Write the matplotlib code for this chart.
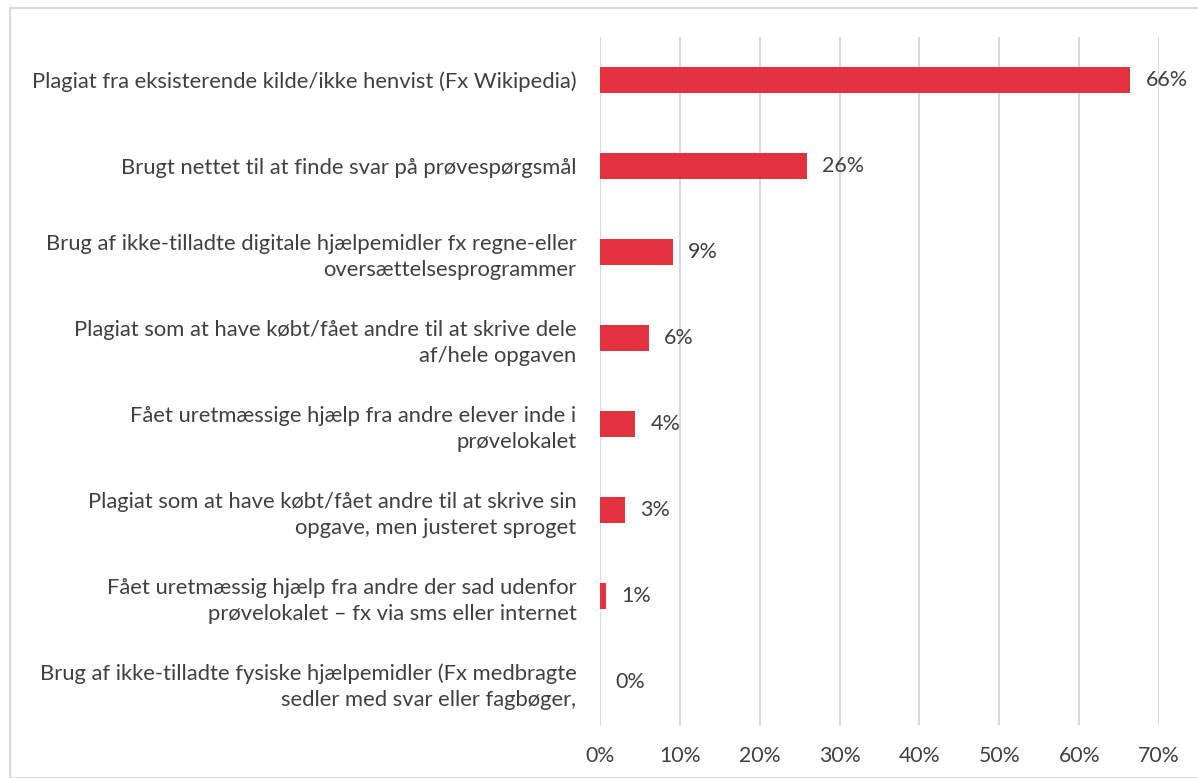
import matplotlib.pyplot as plt
from matplotlib.patches import Rectangle

plt.rcParams['font.family'] = ['Lato', 'DejaVu Sans']

# data (top to bottom)
labels = [
    "Plagiat fra eksisterende kilde/ikke henvist (Fx Wikipedia)",
    "Brugt nettet til at finde svar på prøvespørgsmål",
    "Brug af ikke-tilladte digitale hjælpemidler fx regne-eller\noversættelsesprogrammer",
    "Plagiat som at have købt/fået andre til at skrive dele\naf/hele opgaven",
    "Fået uretmæssige hjælp fra andre elever inde i\nprøvelokalet",
    "Plagiat som at have købt/fået andre til at skrive sin\nopgave, men justeret sproget",
    "Fået uretmæssig hjælp fra andre der sad udenfor\nprøvelokalet – fx via sms eller internet",
    "Brug af ikke-tilladte fysiske hjælpemidler (Fx medbragte\nsedler med svar eller fagbøger,",
]
values = [66.4, 25.9, 9.1, 6.1, 4.4, 3.1, 0.8, 0.0]
value_text = ["66%", "26%", "9%", "6%", "4%", "3%", "1%", "0%"]
xticks = [0, 10, 20, 30, 40, 50, 60, 70]

W, H = 1198, 778
fig = plt.figure(figsize=(W / 100, H / 100), dpi=100)
fig.patches.append(Rectangle((10 / W, 0), 1, 1 - 8 / H, transform=fig.transFigure,
                             fill=False, edgecolor='#d9d9d9', linewidth=1.5))

ax = fig.add_axes([600 / W, 1 - 725 / H, (1159 - 600) / W, (725 - 37) / H])
y = list(range(len(labels)))
ax.barh(y, values, height=0.3, color='#e3323f')
ax.set_ylim(len(labels) - 0.5, -0.5)
ax.set_xlim(0, 70)

text_col = '#404040'
for yi, v, t in zip(y, values, value_text):
    ax.annotate(t, (v, yi), xytext=(11, 0), textcoords='offset points',
                va='center', ha='left', fontsize=15.5, color=text_col)

ax.set_yticks(y)
ax.set_yticklabels(labels, fontsize=15.8, color=text_col, linespacing=1.35)
ax.set_xticks(xticks)
ax.set_xticklabels([f"{v}%" for v in xticks], fontsize=15.3, color=text_col)
ax.tick_params(axis='y', length=0, pad=17)
ax.tick_params(axis='x', length=0, pad=15)
ax.grid(axis='x', color='#d9d9d9', linewidth=1.5)
ax.set_axisbelow(True)
for s in ax.spines.values():
    s.set_visible(False)

fig.savefig('out.png', dpi=100)
